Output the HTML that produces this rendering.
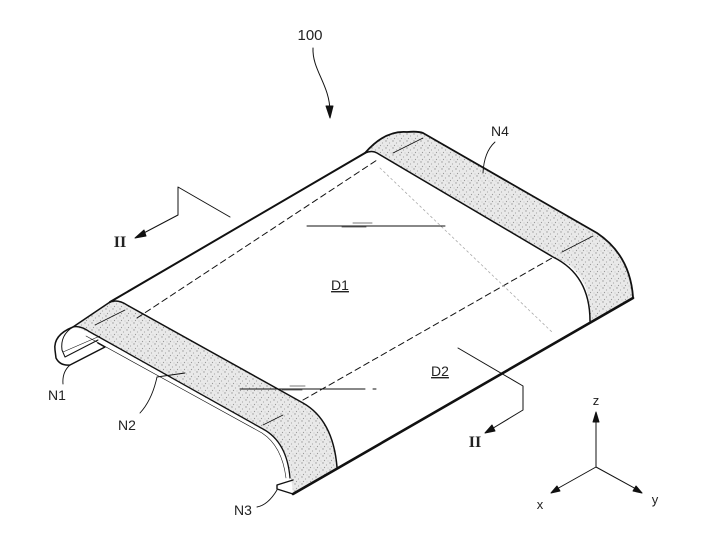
<!DOCTYPE html>
<html><head><meta charset="utf-8"><style>
html,body{margin:0;padding:0;background:#fff;}
svg{display:block;}
text{font-family:"Liberation Sans",sans-serif;fill:#222;}
</style></head><body>
<svg width="714" height="553" viewBox="0 0 714 553" xmlns="http://www.w3.org/2000/svg">
<defs>
<pattern id="st" width="7" height="7" patternUnits="userSpaceOnUse">
<rect width="7" height="7" fill="#e9e9e9"/>
<circle cx="1" cy="1" r="0.7" fill="#999"/>
<circle cx="4.5" cy="3" r="0.6" fill="#aaa"/>
<circle cx="2.5" cy="5.5" r="0.6" fill="#999"/>
<circle cx="6" cy="6" r="0.5" fill="#bbb"/>
</pattern>
</defs>
<g fill="none" stroke="#111" stroke-linecap="round" stroke-linejoin="round">
<path d="M313,48 C312,70 330,85 330,112" stroke-width="1"/>
<path d="M326,106 L330,118 L333,106 Z" fill="#111"/>
<!-- N4 band -->
<path d="M365,153 Q385,130 407,132 Q418,131 423,133 L597,233 Q630,255 633,297 L590,321 Q592,270 553,257 L377,153 Q372,150 365,153 Z" fill="url(#st)" stroke="none"/>
<path d="M365,153 Q385,130 407,132 Q418,131 423,133 L597,233 Q630,255 633,297" stroke-width="1.8"/>
<path d="M365,153 Q372,150 377,153 L553,257 Q590,275 590,321" stroke-width="1.5"/>
<path d="M393,153 L423,138 M562,252 L593,236" stroke-width="0.8"/>
<!-- N2 band -->
<path d="M110,302 Q118,299 127,305 L303,403 Q333,420 337,467 L293,493 L290,470 Q285,440 263,430 L90,333 Q80,328 73,327 Z" fill="url(#st)" stroke="none"/>
<path d="M110,302 Q118,299 127,305 L303,403 Q333,420 337,467" stroke-width="1.5"/>
<path d="M73,327 Q80,325 90,332 L263,429 Q287,442 290,478" stroke-width="1.3"/>
<path d="M86,336 L262,433 Q282,446 286,478" stroke-width="0.6"/>
<path d="M95,325 L125,310 M263,425 L283,415" stroke-width="0.8"/>
<!-- N1 curl -->
<path d="M110,302 L73,327 Q53,335 55,350 L56,358 Q60,366 70,365 L105,347 L98,343" stroke-width="1.5"/>
<path d="M73,327 Q60,335 62,350 L65,357 L98,340" stroke-width="1"/>
<path d="M63,352 L100,336" stroke-width="0.6"/>
<!-- N3 lip -->
<path d="M293,480 L277,485 L277,489 L293,494" stroke-width="1.4"/>
<!-- main edges -->
<path d="M110,302 L365,153" stroke-width="2"/>
<path d="M293,494 L633,298" stroke-width="2.6"/>
<path d="M137,318 L377,160" stroke-width="1" stroke-dasharray="6,4"/>
<path d="M303,400 L552,258" stroke-width="1" stroke-dasharray="6,4"/>
<path d="M380,168 L553,333" stroke="#aaa" stroke-width="0.8" stroke-dasharray="2,3"/>
<path d="M307,226 L445,226 M240,389 L365,389 M373,389 L376,389" stroke-width="1"/>
<path d="M353,223 L372,223 M342,227 L366,227" stroke="#777" stroke-width="1"/>
<path d="M290,386 L305,386 M282,390 L302,390" stroke="#777" stroke-width="1"/>
<path d="M230,217 L178,187 L178,215 L140,235" stroke-width="1"/>
<path d="M135,238 L144,230 L146,236 Z" fill="#111"/>
<path d="M458,348 L523,386 L523,410 L490,430" stroke-width="1"/>
<path d="M485,433 L492,425 L495,431 Z" fill="#111"/>
<!-- leaders -->
<path d="M495,142 Q484,152 483,173" stroke-width="0.9"/>
<path d="M63,384 Q62,372 70,365" stroke-width="0.9"/>
<path d="M140,413 Q152,400 157,377 L185,373" stroke-width="0.9"/>
<path d="M257,507 Q268,505 277,490" stroke-width="0.9"/>
<!-- axes -->
<path d="M596,467 L596,418 M596,467 L555,490 M596,467 L638,490" stroke-width="1"/>
<path d="M593,422 L596,412 L599,422 Z" fill="#111"/>
<path d="M551,493 L557,486 L560,491 Z" fill="#111"/>
<path d="M642,493 L633,491 L636,486 Z" fill="#111"/>
</g>
<text x="310" y="40" font-size="15" text-anchor="middle">100</text>
<text x="500" y="136" font-size="14" text-anchor="middle">N4</text>
<text x="57" y="400" font-size="14" text-anchor="middle">N1</text>
<text x="127" y="430" font-size="14" text-anchor="middle">N2</text>
<text x="243" y="515" font-size="14" text-anchor="middle">N3</text>
<text x="340" y="290" font-size="14" text-anchor="middle" text-decoration="underline">D1</text>
<text x="440" y="376" font-size="14" text-anchor="middle" text-decoration="underline">D2</text>
<text x="120" y="247" font-size="16" font-weight="bold" text-anchor="middle" style="font-family:'Liberation Serif',serif">II</text>
<text x="475" y="447" font-size="16" font-weight="bold" text-anchor="middle" style="font-family:'Liberation Serif',serif">II</text>
<text x="596" y="405" font-size="13" text-anchor="middle">z</text>
<text x="540" y="509" font-size="13" text-anchor="middle">x</text>
<text x="655" y="504" font-size="13" text-anchor="middle">y</text>
</svg>
</body></html>
